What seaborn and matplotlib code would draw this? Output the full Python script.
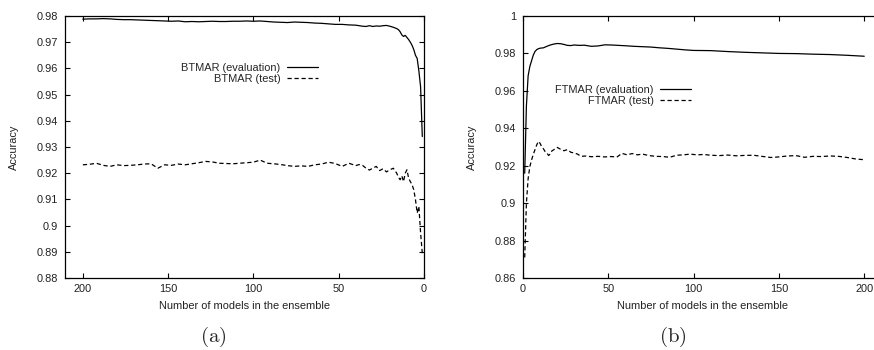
import matplotlib
matplotlib.use("Agg")
import matplotlib.pyplot as plt
import seaborn as sns
import pandas as pd

# ---------------- data ----------------
bt_x = [200, 196, 192, 188, 184, 180, 176, 172, 168, 164,
        160, 156, 152, 148, 144, 140, 136, 132, 128, 124,
        120, 116, 112, 108, 104, 100, 96, 92, 88, 84,
        80, 76, 72, 68, 64, 60, 56, 52, 48, 44,
        40,
        38, 36, 34, 32, 30, 28, 26, 24, 22, 20, 18, 16,
        15, 14, 13, 12, 11, 10, 9, 8, 7, 6, 5, 4, 3, 2, 1]
bt_eval = [.9788, .9789, .9789, .9790, .9789, .9787, .9786, .9786, .9785, .9784,
           .9783, .9782, .9781, .9780, .9781, .9778, .9779, .9778, .9779, .9780,
           .9779, .9779, .9780, .9780, .9781, .9780, .9781, .9779, .9777, .9776,
           .9775, .9777, .9776, .9775, .9773, .9772, .9770, .9768, .9768, .9766,
           .9765,
           .9763, .9761, .9760, .9763, .9760, .9762, .9761, .9763, .9764, .9761, .9757, .9752,
           .9748, .9740, .9728, .9722, .9726, .9718, .9710, .9700, .9688, .9672, .9650, .9638, .9590, .9530, .9340]
bt_test = [.9232, .9234, .9238, .9230, .9226, .9232, .9229, .9230, .9232, .9235,
           .9236, .9219, .9232, .9230, .9235, .9232, .9236, .9240, .9245, .9243,
           .9238, .9237, .9236, .9238, .9240, .9242, .9250, .9238, .9236, .9233,
           .9229, .9226, .9228, .9226, .9232, .9235, .9242, .9237, .9226, .9238,
           .9229,
           .9233, .9230, .9219, .9212, .9219, .9226, .9210, .9217, .9205, .9213, .9219, .9200,
           .9185, .9175, .9190, .9168, .9200, .9213, .9181, .9168, .9156, .9137, .9099, .9048, .9073, .8972, .8895]

ft_eval_x = [1, 2, 3, 4, 5, 6, 7, 8, 9, 10, 12, 14, 16, 18, 20, 22, 24, 26, 28, 30,
             33, 36, 40, 44, 48, 52, 56, 60, 65, 70, 75, 80, 85, 90, 95, 100,
             110, 120, 130, 140, 150, 160, 170, 180, 190, 200]
ft_eval = [.9160, .9520, .9680, .9730, .9760, .9790, .9810, .9820, .9825, .9828, .9830, .9838,
           .9845, .9850, .9853, .9852, .9848, .9843, .9842, .9845, .9843, .9844, .9838, .9840,
           .9846, .9845, .9843, .9841, .9838, .9836, .9834, .9830, .9827, .9823, .9819, .9816,
           .9815, .9810, .9806, .9803, .9800, .9799, .9796, .9794, .9790, .9785]

ft_test_x = [1, 2, 3, 4, 5, 6, 7, 8, 9, 10, 11, 12, 13, 14, 15, 16, 17, 18,
             20, 22, 24, 26, 28, 30, 32, 34,
             37, 40, 44, 48, 52, 55, 58, 61, 64, 67, 70,
             74, 78, 82, 86, 90, 94, 98,
             102, 106, 110,
             115, 120, 125, 130, 135, 140, 145, 150, 155, 160, 165, 170, 175, 180, 185, 190, 195, 200]
ft_test = [.8710, .9000, .9130, .9195, .9230, .9260, .9285, .9310, .9330, .9320,
           .9300, .9290, .9275, .9268, .9255, .9262, .9280, .9285,
           .9298, .9288, .9280, .9286, .9272, .9268, .9262, .9250,
           .9252, .9248, .9250, .9247, .9249, .9246, .9266, .9258, .9265, .9258, .9262,
           .9254, .9250, .9249, .9245, .9256, .9258, .9262,
           .9258, .9260, .9256,
           .9254, .9257, .9253, .9255, .9256, .9250, .9244, .9247, .9252, .9254, .9245,
           .9250, .9249, .9252, .9250, .9244, .9236, .9232]

bt_yticks = [0.88, 0.89, 0.9, 0.91, 0.92, 0.93, 0.94, 0.95, 0.96, 0.97, 0.98]
ft_yticks = [0.86, 0.88, 0.9, 0.92, 0.94, 0.96, 0.98, 1.0]
x_ticks = [0, 50, 100, 150, 200]

# ---------------- style ----------------
sns.set_style("ticks")
plt.rcParams["font.family"] = ["Liberation Sans", "DejaVu Sans"]
plt.rcParams["mathtext.fontset"] = "cm"
FS = 7.9

W, H = 874, 350
fig = plt.figure(figsize=(W / 100, H / 100), dpi=100)


def px_axes(x0, y0, x1, y1):
    return fig.add_axes([x0 / W, 1 - y1 / H, (x1 - x0) / W, (y1 - y0) / H])


ax1 = px_axes(65, 16, 424, 278)
ax2 = px_axes(523, 16, 882, 278)

dash = (0, (3.4, 2.2))
lw = 0.9

df_bt = pd.DataFrame({"n": bt_x, "eval": bt_eval, "test": bt_test})
sns.lineplot(data=df_bt, x="n", y="eval", ax=ax1, color="black", linewidth=lw,
             label="BTMAR (evaluation)")
sns.lineplot(data=df_bt, x="n", y="test", ax=ax1, color="black", linewidth=lw,
             linestyle=dash, label="BTMAR (test)")

df_fe = pd.DataFrame({"n": ft_eval_x, "acc": ft_eval})
df_ft = pd.DataFrame({"n": ft_test_x, "acc": ft_test})
sns.lineplot(data=df_fe, x="n", y="acc", ax=ax2, color="black", linewidth=lw,
             label="FTMAR (evaluation)")
sns.lineplot(data=df_ft, x="n", y="acc", ax=ax2, color="black", linewidth=lw,
             linestyle=dash, label="FTMAR (test)")

ax1.set_xlim(210.4, 0)
ax1.set_ylim(0.88, 0.98)
ax2.set_xlim(0, 210.4)
ax2.set_ylim(0.86, 1.0)

ax1.set_yticks(bt_yticks)
ax1.set_yticklabels([f"{v:g}" for v in bt_yticks])
ax2.set_yticks(ft_yticks)
ax2.set_yticklabels([f"{v:g}" for v in ft_yticks])

for ax in (ax1, ax2):
    ax.set_xticks(x_ticks)
    ax.set_xticklabels([str(v) for v in x_ticks])
    ax.tick_params(direction="in", length=3.5, width=0.8, labelsize=FS,
                   top=True, right=True, colors="black", labelcolor="#222222")
    ax.tick_params(axis="y", pad=5)
    ax.tick_params(axis="x", pad=4)
    for s in ax.spines.values():
        s.set_linewidth(0.9)
        s.set_color("black")
        s.set_visible(True)
    ax.set_xlabel("Number of models in the ensemble", fontsize=FS, va="center",
                  color="#222222")
    ax.set_ylabel("Accuracy", fontsize=FS, va="center", color="#222222")
    ax.xaxis.set_label_coords(0.5, -28 / 262)
    ax.yaxis.set_label_coords(-51 / 359, 0.5)
    ax.grid(False)

# legends: text first, sample line after (gnuplot style)
for ax, (xr, yt) in ((ax1, (318, 63)), (ax2, (691, 85))):
    ax.legend(loc="upper right", bbox_to_anchor=(xr / W, 1 - yt / H),
              bbox_transform=fig.transFigure, frameon=False, markerfirst=False,
              fontsize=FS, handlelength=2.8, handletextpad=0.6,
              labelspacing=0.1, borderpad=0, borderaxespad=0)

fig.text(213 / W, 1 - 337 / H, r"$\mathrm{(a)}$", ha="center", va="center", fontsize=15)
fig.text(673 / W, 1 - 337 / H, r"$\mathrm{(b)}$", ha="center", va="center", fontsize=15)

fig.savefig("out.png", dpi=100)
